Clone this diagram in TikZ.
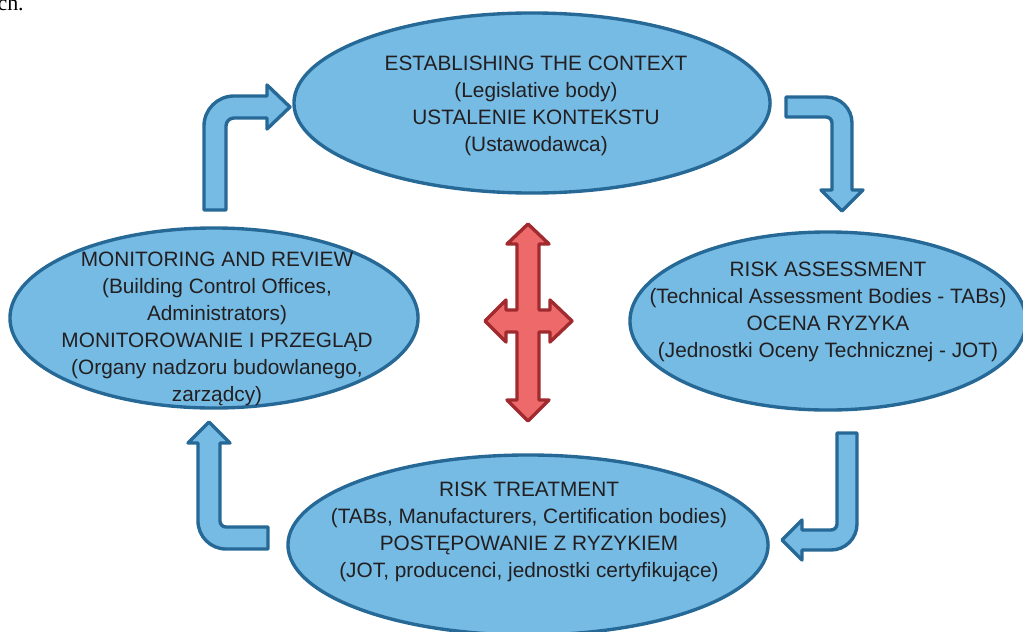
\documentclass[tikz,border=0pt]{standalone}
\usepackage{fontspec}
\setmainfont{Liberation Sans}
\newfontfamily\pageserif{Liberation Serif}
\usepackage{xcolor}
\usepackage{tikz}
\usetikzlibrary{shapes.geometric}

\definecolor{stagefill}{RGB}{117,187,228}
\definecolor{stageedge}{RGB}{38,104,150}
\definecolor{crossfill}{RGB}{238,106,106}
\definecolor{crossedge}{RGB}{160,42,46}
\definecolor{txtcol}{RGB}{35,31,32}

\tikzset{
    stage/.style={ellipse, draw=stageedge, fill=stagefill, line width=2.4pt, inner sep=0pt},
    stagetext/.style={align=center, text=txtcol, inner sep=0pt, font=\fontsize{14.8}{19.2}\selectfont},
    bigarrow/.style={draw=stageedge, fill=stagefill, line width=2.4pt, line join=round},
    crossarrow/.style={draw=crossedge, fill=crossfill, line width=2.4pt, line join=round}
}

\begin{document}
\begin{tikzpicture}[x=0.025cm, y=-0.025cm]
        \useasboundingbox (0,0) rectangle (1023,631);

        \node[anchor=base east, inner sep=0pt, font=\pageserif\fontsize{15.6}{18}\selectfont] (pagetail) at (24,10) {ch.};

        \node[stage, minimum width=11.9cm, minimum height=4.5cm] (context) at (532,103) {};
        \node[stage, minimum width=10.2cm, minimum height=4.5cm] (monitor) at (214,318) {};
        \node[stage, minimum width=9.9cm, minimum height=4.45cm] (assess) at (828,321) {};
        \node[stage, minimum width=12.0cm, minimum height=4.5cm] (treat) at (528,545) {};

        \node[stagetext] (contexttext) at (536,106) {ESTABLISHING THE CONTEXT\\(Legislative body)\\USTALENIE KONTEKSTU\\(Ustawodawca)};
        \node[stagetext] (monitortext) at (217,329) {MONITORING AND REVIEW\\(Building Control Offices,\\Administrators)\\MONITOROWANIE I PRZEGLĄD\\(Organy nadzoru budowlanego,\\zarządcy)};
        \node[stagetext] (assesstext) at (828,312) {RISK ASSESSMENT\\(Technical Assessment Bodies - TABs)\\OCENA RYZYKA\\(Jednostki Oceny Technicznej - JOT)};
        \node[stagetext] (treattext) at (529,532) {RISK TREATMENT\\(TABs, Manufacturers, Certification bodies)\\POSTĘPOWANIE Z RYZYKIEM\\(JOT, producenci, jednostki certyfikujące)};

        % monitor -> context
        \draw[bigarrow] (204,210) -- (204,126) arc[start angle=180, end angle=90, radius=0.75cm] -- (267,96) -- (267,85) -- (290,107) -- (267,129) -- (267,118) -- (234,118) arc[start angle=90, end angle=180, radius=0.2cm] -- (226,210) -- cycle;
        % context -> assess
        \draw[bigarrow] (786,97) -- (826,97) arc[start angle=90, end angle=0, radius=0.65cm] -- (852,190) -- (863,190) -- (842,211) -- (821,190) -- (832,190) -- (832,123) arc[start angle=0, end angle=90, radius=0.15cm] -- (786,117) -- cycle;
        % assess -> treat
        \draw[bigarrow] (857,433) -- (857,524) arc[start angle=0, end angle=-90, radius=0.65cm] -- (802,550) -- (802,560) -- (782,540) -- (802,520) -- (802,530) -- (831,530) arc[start angle=-90, end angle=0, radius=0.15cm] -- (837,433) -- cycle;
        % treat -> monitor
        \draw[bigarrow] (268,549) -- (226,549) arc[start angle=-90, end angle=-180, radius=0.7cm] -- (198,443) -- (188,443) -- (209,422) -- (230,443) -- (220,443) -- (220,521) arc[start angle=180, end angle=270, radius=0.15cm] -- (268,527) -- cycle;

        % centre cross
        \draw[crossarrow] (528,224) -- (549,244) -- (539,244) -- (539,310) -- (550,310) -- (550,300) -- (572,321) -- (550,342) -- (550,332) -- (539,332) -- (539,400) -- (549,400) -- (528,421) -- (507,400) -- (517,400) -- (517,332) -- (506,332) -- (506,342) -- (485,321) -- (506,300) -- (506,310) -- (517,310) -- (517,244) -- (507,244) -- cycle;
    \end{tikzpicture}
\end{document}
